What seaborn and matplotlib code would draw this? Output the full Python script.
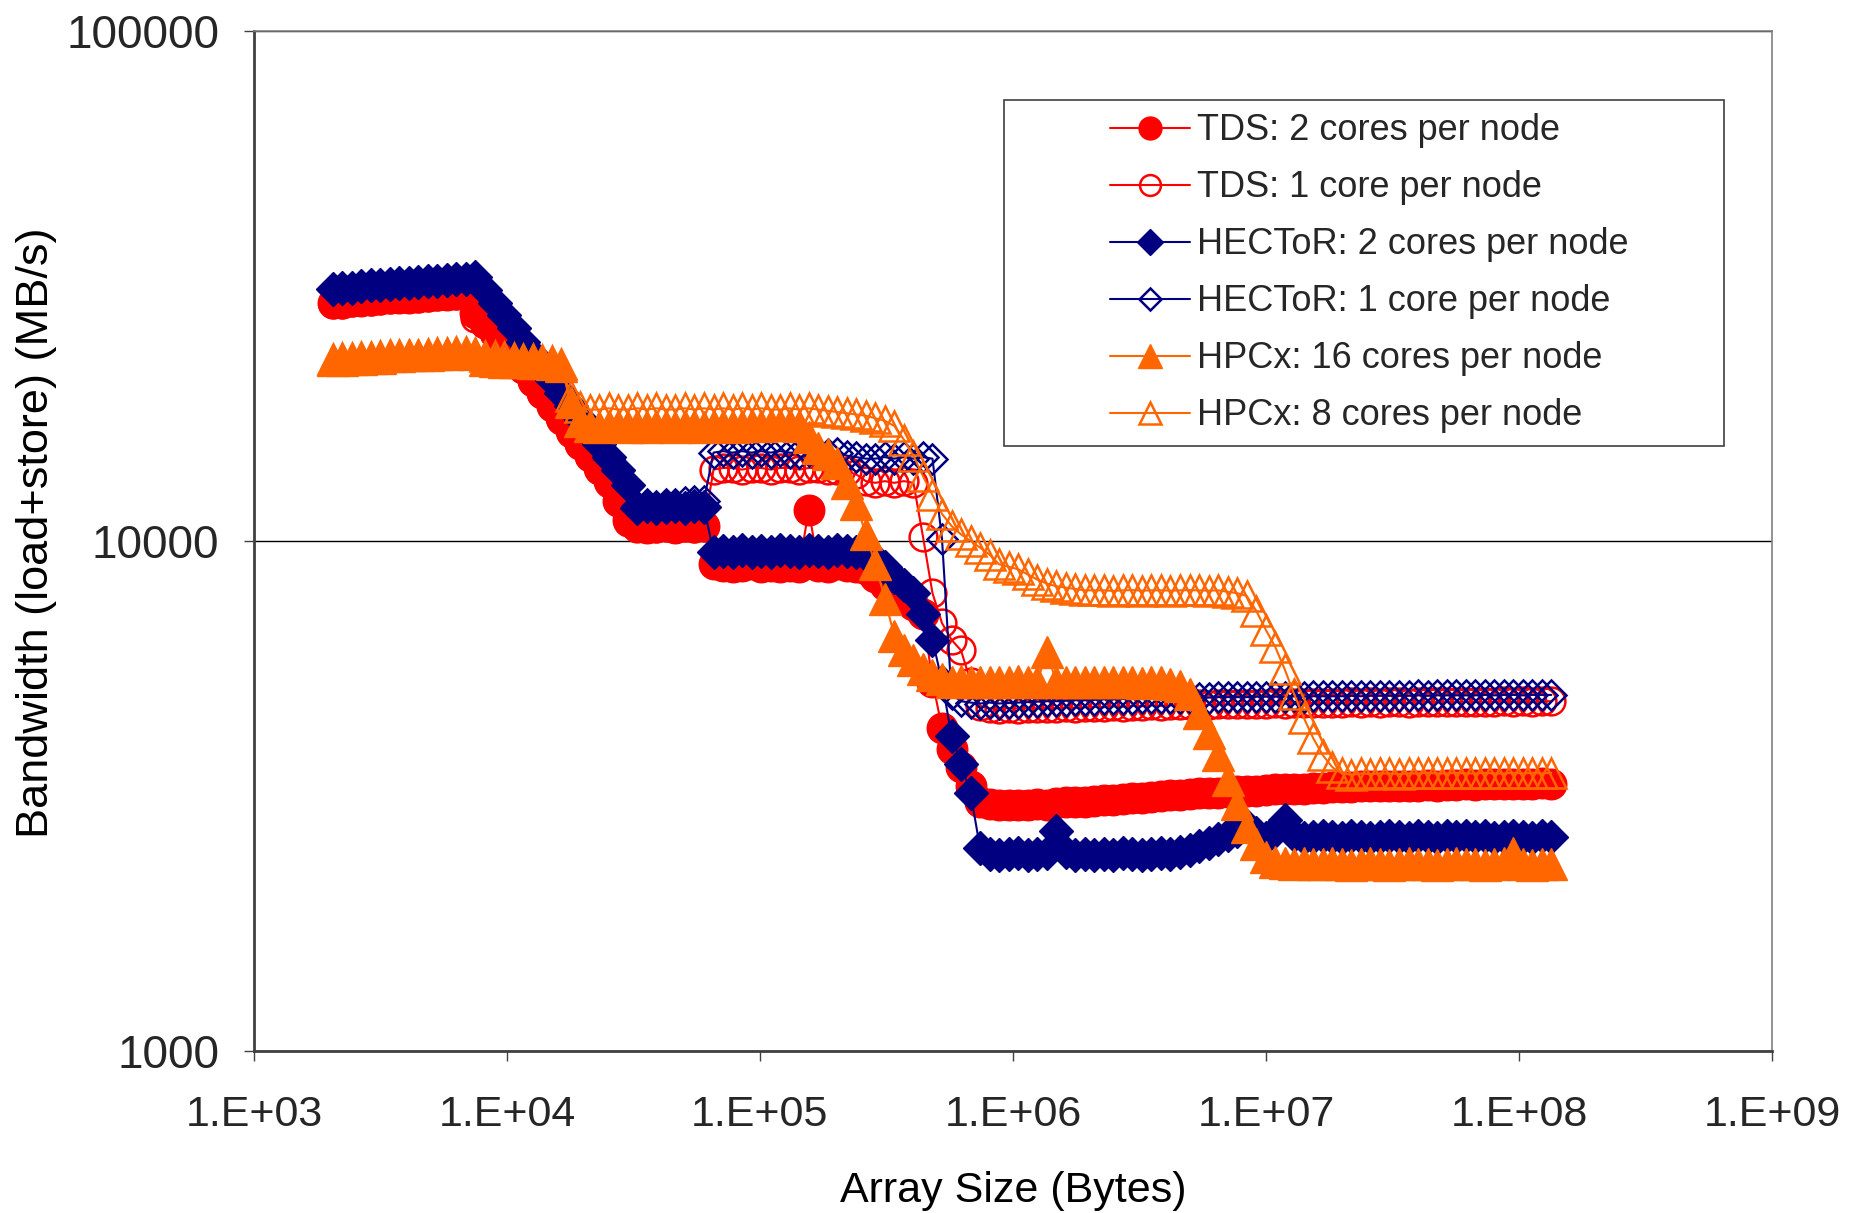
import math
import matplotlib
matplotlib.use("Agg")
import matplotlib.pyplot as plt
import matplotlib.ticker as mticker
from matplotlib.patches import Rectangle
import seaborn as sns

# array sizes in bytes (8 steps per doubling, 2 KB .. 128 MB)
array_size = [
    2048, 2233, 2435, 2656, 2896, 3158, 3444, 3756,
    4096, 4467, 4871, 5312, 5793, 6317, 6889, 7512,
    8192, 8933, 9742, 10624, 11585, 12634, 13777, 15024,
    16384, 17867, 19484, 21247, 23170, 25268, 27554, 30048,
    32768, 35734, 38968, 42495, 46341, 50535, 55109, 60096,
    65536, 71468, 77936, 84990, 92682, 101070, 110218, 120193,
    131072, 142935, 155872, 169979, 185364, 202141, 220436, 240386,
    262144, 285870, 311744, 339958, 370728, 404281, 440872, 480771,
    524288, 571740, 623487, 679917, 741455, 808562, 881744, 961543,
    1048576, 1143480, 1246974, 1359834, 1482910, 1617125, 1763488, 1923085,
    2097152, 2286960, 2493948, 2719668, 2965820, 3234250, 3526976, 3846170,
    4194304, 4573920, 4987896, 5439336, 5931641, 6468501, 7053952, 7692340,
    8388608, 9147841, 9975792, 10878672, 11863283, 12937002, 14107905, 15384681,
    16777216, 18295683, 19951584, 21757344, 23726566, 25874004, 28215810, 30769362,
    33554432, 36591366, 39903168, 43514688, 47453133, 51748008, 56431620, 61538724,
    67108864, 73182732, 79806336, 87029376, 94906266, 103496016, 112863240, 123077448,
    134217728,
]

# bandwidth in MB/s
tds_2core = [
    29300, 29300, 29500, 29600, 29700, 29800, 29900, 30000,
    30000, 30100, 30200, 30300, 30400, 30500, 30600, 28000,
    26800, 25600, 24300, 23000, 21800, 20600, 19500, 18400,
    17400, 16400, 15500, 14700, 13900, 13100, 12000, 11000,
    10700, 10600, 10650, 10700, 10600, 10700, 10650, 10700,
    9000, 8950, 8900, 8950, 9000, 8900, 8950, 8900,
    8950, 8900, 11500, 8950, 8900, 9000, 8950, 8900,
    8800, 8500, 8200, 7900, 7700, 7500, 7200, 5300,
    4300, 3900, 3600, 3300, 3080, 3050, 3030, 3030,
    3040, 3030, 3050, 3040, 3060, 3070, 3080, 3080,
    3090, 3100, 3110, 3120, 3130, 3140, 3150, 3160,
    3170, 3180, 3190, 3200, 3200, 3210, 3220, 3230,
    3240, 3240, 3250, 3260, 3260, 3270, 3270, 3280,
    3280, 3290, 3290, 3290, 3300, 3300, 3300, 3310,
    3300, 3310, 3310, 3320, 3310, 3320, 3320, 3330,
    3320, 3330, 3330, 3340, 3330, 3340, 3340, 3350,
    3340,
]

tds_1core = [
    29100, 29200, 29400, 29500, 29600, 29700, 29800, 29900,
    30000, 30000, 30100, 30200, 30300, 30400, 30500, 27300,
    26600, 25500, 24200, 22900, 21700, 20500, 19400, 18300,
    17300, 16300, 15400, 14600, 13800, 13000, 11900, 10900,
    10600, 10600, 10600, 10650, 10600, 10650, 10600, 10650,
    13800, 13900, 13900, 13800, 13900, 13900, 13800, 13900,
    13900, 13800, 13900, 13900, 13800, 13800, 13700, 13500,
    13100, 13000, 13100, 13000, 13100, 13000, 10200, 7900,
    6900, 6400, 6100, 5300, 4750, 4700, 4680, 4700,
    4690, 4700, 4700, 4710, 4700, 4720, 4710, 4720,
    4730, 4720, 4740, 4730, 4750, 4740, 4760, 4750,
    4760, 4770, 4760, 4780, 4770, 4790, 4780, 4790,
    4800, 4790, 4800, 4810, 4800, 4810, 4820, 4810,
    4820, 4810, 4820, 4830, 4820, 4830, 4820, 4830,
    4830, 4820, 4830, 4840, 4830, 4840, 4830, 4840,
    4840, 4830, 4840, 4850, 4840, 4850, 4840, 4850,
    4850,
]

hector_2core = [
    31200, 31400, 31400, 31600, 31700, 31800, 31900, 32000,
    32100, 32200, 32300, 32400, 32500, 32600, 32700, 32900,
    31100, 29300, 27700, 26100, 24600, 23200, 21900, 20700,
    19500, 18400, 17400, 16400, 15500, 14600, 13800, 12900,
    11600, 11700, 11600, 11650, 11700, 11600, 11700, 11650,
    9500, 9550, 9500, 9600, 9500, 9550, 9500, 9600,
    9550, 9500, 9600, 9550, 9500, 9600, 9550, 9500,
    9400, 9200, 8900, 8500, 8200, 7900, 7200, 6400,
    5300, 4150, 3650, 3200, 2500, 2430, 2420, 2430,
    2440, 2420, 2430, 2440, 2700, 2450, 2420, 2430,
    2420, 2430, 2420, 2440, 2430, 2420, 2430, 2440,
    2430, 2450, 2480, 2520, 2560, 2600, 2650, 2700,
    2760, 2680, 2620, 2700, 2840, 2650, 2620, 2630,
    2640, 2630, 2620, 2640, 2630, 2620, 2630, 2640,
    2630, 2620, 2640, 2630, 2620, 2640, 2630, 2640,
    2630, 2640, 2620, 2630, 2640, 2630, 2620, 2640,
    2630,
]

hector_1core = [
    31000, 31200, 31300, 31500, 31600, 31700, 31800, 31900,
    32000, 32100, 32200, 32300, 32400, 32500, 32600, 32800,
    31000, 29200, 27600, 26000, 24500, 23100, 21800, 20600,
    19400, 18300, 17300, 16300, 15400, 14500, 13700, 12800,
    11700, 11800, 11700, 11800, 11800, 11900, 12000, 12000,
    14900, 15000, 14900, 15000, 14900, 15000, 14900, 15000,
    14900, 14900, 15000, 14900, 14800, 14900, 14700, 14600,
    14500, 14500, 14600, 14500, 14600, 14500, 14600, 14500,
    10100, 5000, 4850, 4820, 4800, 4820, 4800, 4810,
    4820, 4830, 4840, 4850, 4850, 4860, 4870, 4870,
    4880, 4890, 4890, 4900, 4900, 4910, 4910, 4920,
    4920, 4920, 4930, 4930, 4930, 4940, 4940, 4940,
    4940, 4950, 4950, 4950, 4950, 4960, 4950, 4960,
    4960, 4960, 4960, 4970, 4960, 4970, 4970, 4970,
    4970, 4970, 4980, 4970, 4980, 4980, 4980, 4980,
    4980, 4990, 4980, 4990, 4990, 4980, 4990, 4990,
    4990,
]

hpcx_16core = [
    22600, 22600, 22700, 22700, 22800, 22800, 23000, 23000,
    23100, 23100, 23200, 23300, 23300, 23400, 23400, 23300,
    22600, 22500, 22400, 22400, 22400, 22300, 22300, 22200,
    22000, 18700, 17200, 16800, 16700, 16800, 16800, 16700,
    16800, 16700, 16800, 16800, 16700, 16800, 16800, 16700,
    16800, 16800, 16700, 16800, 16900, 16800, 16900, 16900,
    16900, 16800, 16000, 15200, 14800, 14200, 13000, 11800,
    10300, 9000, 7700, 6500, 6100, 5850, 5600, 5450,
    5350, 5300, 5320, 5300, 5280, 5300, 5290, 5300,
    5310, 5300, 5290, 6050, 5300, 5280, 5300, 5290,
    5280, 5300, 5290, 5280, 5300, 5270, 5290, 5280,
    5250, 5200, 5000, 4600, 4200, 3800, 3400, 3050,
    2750, 2550, 2400, 2350, 2340, 2330, 2340, 2330,
    2330, 2340, 2330, 2320, 2330, 2340, 2330, 2320,
    2330, 2340, 2330, 2330, 2320, 2330, 2340, 2330,
    2330, 2320, 2330, 2340, 2440, 2330, 2320, 2330,
    2330,
]

hpcx_8core = [
    22700, 22800, 22800, 22900, 22900, 23000, 23100, 23100,
    23200, 23200, 23300, 23400, 23400, 23500, 23500, 23400,
    23000, 23000, 22900, 22800, 22700, 22700, 22600, 22500,
    22200, 19200, 18300, 18100, 18100, 18200, 18100, 18100,
    18200, 18100, 18200, 18100, 18100, 18200, 18100, 18200,
    18100, 18200, 18100, 18200, 18100, 18200, 18100, 18100,
    18200, 18100, 18200, 18100, 18000, 17900, 17800, 17700,
    17600, 17400, 17200, 16800, 15800, 14700, 13400, 12300,
    11300, 10700, 10300, 10000, 9700, 9400, 9000, 8900,
    8800, 8600, 8400, 8250, 8150, 8100, 8050, 8000,
    8000, 8000, 7980, 8000, 8010, 7990, 8000, 8000,
    7990, 8000, 8010, 8000, 7990, 8000, 7950, 7900,
    7800, 7300, 6700, 6200, 5600, 5000, 4500, 4100,
    3800, 3600, 3500, 3480, 3500, 3490, 3500, 3500,
    3490, 3500, 3500, 3510, 3500, 3500, 3510, 3500,
    3500, 3510, 3500, 3500, 3510, 3500, 3510, 3500,
    3510,
]

series_labels = [
    "TDS: 2 cores per node",
    "TDS: 1 core per node",
    "HECToR: 2 cores per node",
    "HECToR: 1 core per node",
    "HPCx: 16 cores per node",
    "HPCx: 8 cores per node",
]

x_ticks = [1e3, 1e4, 1e5, 1e6, 1e7, 1e8, 1e9]
y_ticks = [1e3, 1e4, 1e5]

RED = "#FF0000"
NAVY = "#000080"
ORANGE = "#FF6600"

styles = [
    dict(color=RED, marker="o", ms=22, mfc=RED, mew=1),
    dict(color=RED, marker="o", ms=20, mfc="none", mew=1.8),
    dict(color=NAVY, marker="D", ms=17, mfc=NAVY, mew=1),
    dict(color=NAVY, marker="D", ms=15.5, mfc="none", mew=1.8),
    dict(color=ORANGE, marker="^", ms=23, mfc=ORANGE, mew=1),
    dict(color=ORANGE, marker="^", ms=22, mfc="none", mew=1.8),
]
all_series = [tds_2core, tds_1core, hector_2core, hector_1core, hpcx_16core, hpcx_8core]

sns.set_theme(style="white")
plt.rcParams["font.family"] = ["Liberation Sans", "DejaVu Sans"]

fig = plt.figure(figsize=(18.52, 12.13), dpi=100)
ax = fig.add_axes([0.1371, 0.1336, 0.8197, 0.8409])

for vals, label, st in zip(all_series, series_labels, styles):
    sns.lineplot(
        x=array_size, y=vals, ax=ax, label=label,
        color=st["color"], linewidth=1.5,
        marker=st["marker"], markersize=st["ms"],
        markerfacecolor=st["mfc"], markeredgecolor=st["color"],
        markeredgewidth=st["mew"],
    )

ax.set_xscale("log")
ax.set_yscale("log")
ax.set_xlim(1e3, 1e9)
ax.set_ylim(1e3, 1e5)

ax.xaxis.set_major_locator(mticker.FixedLocator(x_ticks))
ax.xaxis.set_minor_locator(mticker.NullLocator())
ax.yaxis.set_major_locator(mticker.FixedLocator(y_ticks))
ax.yaxis.set_minor_locator(mticker.NullLocator())
ax.xaxis.set_major_formatter(mticker.FuncFormatter(lambda v, p: "1.E+%02d" % round(math.log10(v))))
ax.yaxis.set_major_formatter(mticker.FuncFormatter(lambda v, p: "%d" % round(v)))

ax.grid(False)
ax.yaxis.grid(True, which="major", color="black", linewidth=1)
ax.tick_params(axis="x", which="major", direction="out", length=7, width=1,
               color="#404040", labelsize=31, pad=25, bottom=True)
ax.tick_params(axis="y", which="major", direction="out", length=7, width=1,
               color="#404040", labelsize=33, pad=18, left=True)

for side in ["left", "bottom"]:
    ax.spines[side].set_color("#404040")
    ax.spines[side].set_linewidth(2)
for side in ["top", "right"]:
    ax.spines[side].set_color("#808080")
    ax.spines[side].set_linewidth(1.2)

ax.set_xlabel("Array Size (Bytes)", fontsize=31, color="black")
ax.set_ylabel("Bandwidth (load+store) (MB/s)", fontsize=32.5, color="black")
ax.xaxis.set_label_coords(0.5, -0.118)
ax.yaxis.set_label_coords(-0.1295, 0.508)

handles, labels = ax.get_legend_handles_labels()
ax.legend(handles, labels, loc="upper left", bbox_to_anchor=(0.5897, 0.9215),
          bbox_transform=fig.transFigure, frameon=False, fontsize=26,
          markerscale=0.75, handlelength=2.2, handletextpad=0.2,
          labelspacing=0.61, borderpad=0)
fig.add_artist(Rectangle((0.5421, 0.6323), 0.3888, 0.2852, transform=fig.transFigure,
                         fill=False, edgecolor="#404040", linewidth=1.2))

fig.savefig("out.png", dpi=100, facecolor="white")
